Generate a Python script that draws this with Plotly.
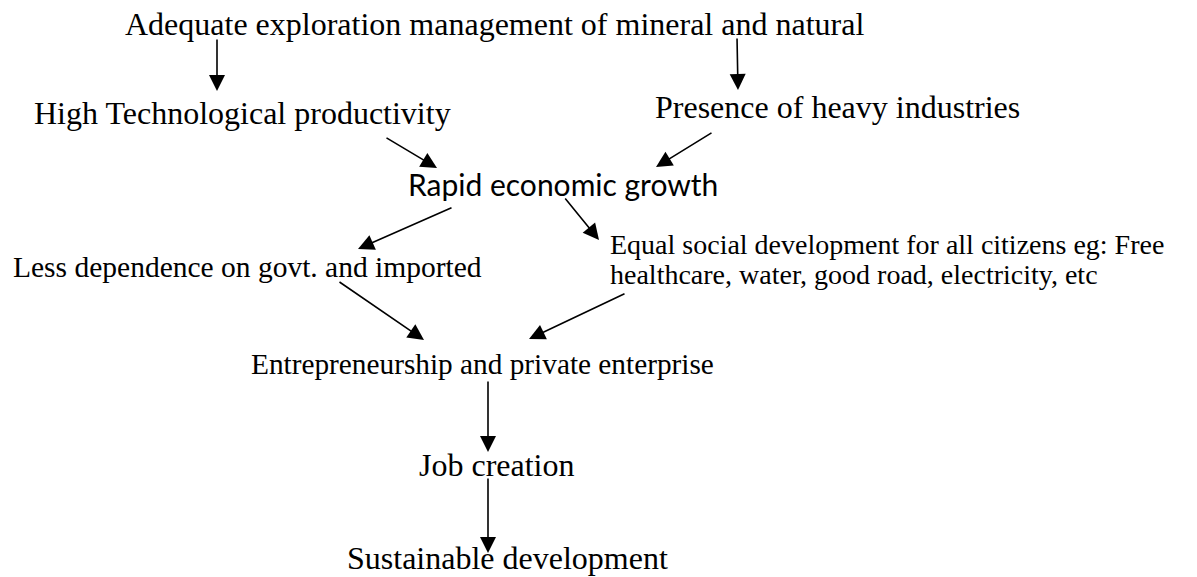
import plotly.graph_objects as go

# ---- diagram content ----
labels = [
    "Adequate exploration management of mineral and natural",
    "High Technological productivity",
    "Presence of heavy industries",
    "Rapid economic growth",
    "Less dependence on govt. and imported",
    "Equal social development for all citizens eg: Free",
    "healthcare, water, good road, electricity, etc",
    "Entrepreneurship and private enterprise",
    "Job creation",
    "Sustainable development",
]
label_x = [123, 32, 653, 406, 11, 608, 608, 249, 417, 345]          # left edge
label_baseline = [34, 123, 117, 193, 276, 253, 283, 373, 475, 568]  # text baseline
label_font = ["serif", "serif", "serif", "sans", "serif", "serif", "serif", "serif", "serif", "serif"]
label_size = [32, 32, 32, 30, 29.5, 28, 28, 29.3, 32, 32]

edge_x0 = [217, 737, 385, 713, 453, 564, 338, 626, 488, 488]
edge_y0 = [38, 37, 137, 132, 207, 197, 281, 293, 380, 477]
edge_x1 = [217, 738, 437, 656, 358, 599, 424, 529, 488, 488]
edge_y1 = [91, 90, 168, 167, 249, 240, 340, 339, 452, 553]

W, H = 1197, 577
SERIF = "Liberation Serif, Times New Roman, serif"
SANS = "Lato, Carlito, Calibri, sans-serif"

fig = go.Figure()
# invisible trace so axes exist
fig.add_trace(go.Scatter(x=[0, W], y=[0, H], mode="markers",
                         marker=dict(opacity=0), hoverinfo="skip", showlegend=False))

annotations = []
for txt, x, yb, f, size in zip(labels, label_x, label_baseline, label_font, label_size):
    fam = SERIF if f == "serif" else SANS
    annotations.append(dict(
        x=x, y=yb - 0.30 * size, xref="x", yref="y",
        text=txt, showarrow=False, xanchor="left", yanchor="middle",
        font=dict(family=fam, size=size, color="#000000"),
    ))

for x0, y0, x1, y1 in zip(edge_x0, edge_y0, edge_x1, edge_y1):
    annotations.append(dict(
        x=x1, y=y1, ax=x0, ay=y0, xref="x", yref="y", axref="x", ayref="y",
        text="", showarrow=True, arrowhead=2, arrowsize=2.0, arrowwidth=1.6,
        arrowcolor="#000000", standoff=0, startstandoff=0,
    ))

fig.update_layout(
    width=W, height=H, autosize=False,
    margin=dict(l=0, r=0, t=0, b=0),
    paper_bgcolor="white", plot_bgcolor="white",
    xaxis=dict(range=[0, W], visible=False, fixedrange=True),
    yaxis=dict(range=[H, 0], visible=False, fixedrange=True),
    annotations=annotations,
    showlegend=False,
)

fig.write_html(
    "out.html",
    config={"displayModeBar": False},
    post_script="document.body.style.margin='0';document.body.style.overflow='hidden';",
)
